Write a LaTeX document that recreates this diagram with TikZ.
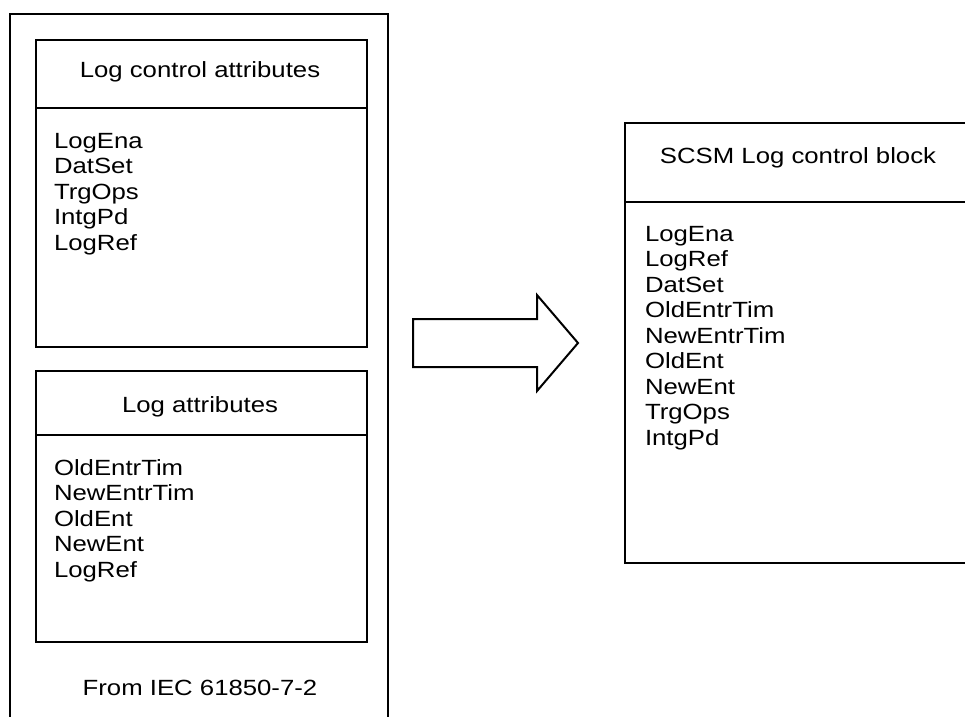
\documentclass[tikz,border=0pt]{standalone}
\usepackage{fontspec}
\setmainfont{Liberation Sans}[FakeStretch=1.17]
\begin{document}
\begin{tikzpicture}[x=1pt,y=-1pt,
  box/.style={draw=black,line width=2pt,fill=none},
  txt/.style={inner sep=0pt,outer sep=0pt,font=\fontsize{22}{25.5}\selectfont},
  item/.style={txt,anchor=base west},
  head/.style={txt,anchor=base}]
\clip (0,0) rectangle (965,716);
\fill[white] (0,0) rectangle (965,716);
% outer frame
\draw[box] (10,740) -- (10,14) coordinate (ofnw) -- (388,14) -- (388,740);
% inner box 1
\node[box,anchor=north west,minimum width=331pt,minimum height=307pt,inner sep=0pt] (lca) at (35,39) {};
\draw[box] (35,108) coordinate (s1a) -- (366,108) coordinate (s1b);
\node[head] (lcah) at (200,77) {Log control attributes};
\foreach \t [count=\i from 0] in {LogEna,DatSet,TrgOps,IntgPd,LogRef}
  \node[item] (lcai\i) at (54,148+25.5*\i) {\t};
% inner box 2
\node[box,anchor=north west,minimum width=331pt,minimum height=271pt,inner sep=0pt] (la) at (35,370) {};
\draw[box] (35,435) coordinate (s2a) -- (366,435) coordinate (s2b);
\node[head] (lah) at (200,412) {Log attributes};
\foreach \t [count=\i from 0] in {OldEntrTim,NewEntrTim,OldEnt,NewEnt,LogRef}
  \node[item] (lai\i) at (54,475+25.5*\i) {\t};
\node[head] (src) at (200,695) {From IEC 61850-7-2};
% arrow
\draw[line width=2pt,line join=miter] (413,319) -- (537,319) -- (537,295) -- (578,343) -- (537,391) -- (537,367) -- (413,367) -- cycle;
% right box
\draw[box] (985,123) -- (625,123) coordinate (rbnw) -- (625,563) -- (985,563);
\draw[box] (625,202) coordinate (s3a) -- (985,202) coordinate (s3b);
\node[head] (scsmh) at (798,163) {SCSM Log control block};
\foreach \t [count=\i from 0] in {LogEna,LogRef,DatSet,OldEntrTim,NewEntrTim,OldEnt,NewEnt,TrgOps,IntgPd}
  \node[item] (scsmi\i) at (645,241+25.5*\i) {\t};
\end{tikzpicture}
\end{document}
